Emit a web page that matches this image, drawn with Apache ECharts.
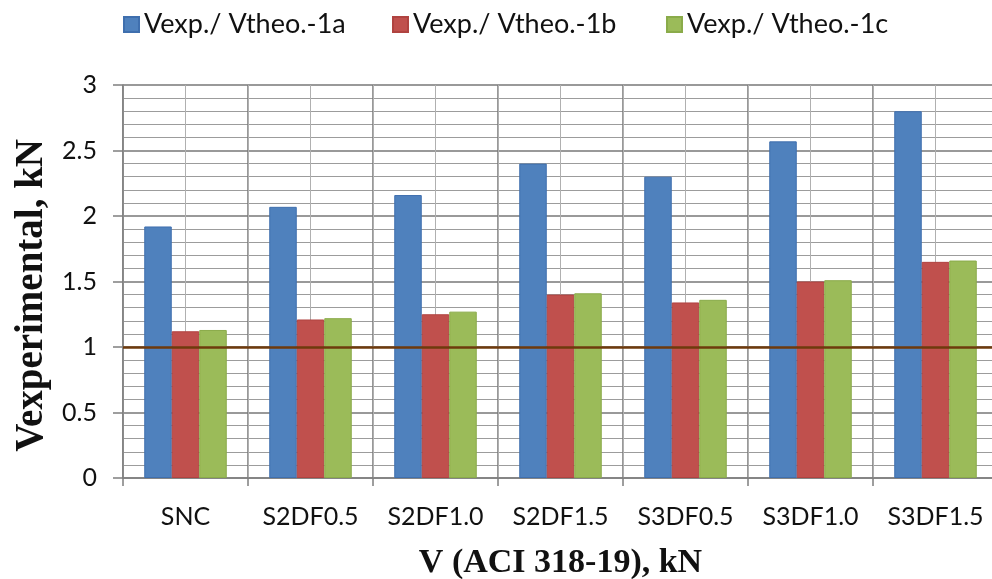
<!DOCTYPE html>
<html>
<head>
<meta charset="utf-8">
<script src="https://cdn.jsdelivr.net/npm/echarts@6/dist/echarts.min.js"></script>
<style>
html,body{margin:0;padding:0;background:#fff;}
#chart{width:992px;height:579px;}
</style>
</head>
<body>
<div id="chart"></div>
<script>
const categories = ['SNC', 'S2DF0.5', 'S2DF1.0', 'S2DF1.5', 'S3DF0.5', 'S3DF1.0', 'S3DF1.5'];
const seriesNames = ['Vexp./ Vtheo.-1a', 'Vexp./ Vtheo.-1b', 'Vexp./ Vtheo.-1c'];
const values1a = [1.92, 2.07, 2.16, 2.40, 2.30, 2.57, 2.80];
const values1b = [1.12, 1.21, 1.25, 1.40, 1.34, 1.50, 1.65];
const values1c = [1.13, 1.22, 1.27, 1.41, 1.36, 1.51, 1.66];
const referenceValue = 1;
const yTitle = 'Vexperimental, kN';
const xTitle = 'V (ACI 318-19), kN';

const colors = ['#4f81bd', '#c0504d', '#9bbb59'];
const legendLefts = [123, 392, 666];
const halfCats = categories.flatMap(c => [c + '-L', c + '-R']);

const chart = echarts.init(document.getElementById('chart'), null, {renderer: 'canvas'});
const labelFont = 'Lato';
chart.setOption({
  animation: false,
  backgroundColor: '#ffffff',
  color: colors,
  legend: seriesNames.map((n, i) => ({
    left: legendLefts[i],
    top: 11,
    padding: 0,
    itemWidth: 15,
    itemHeight: 15,
    itemGap: 0,
    icon: 'rect',
    textStyle: {fontFamily: labelFont, fontSize: 27, color: '#111'},
    data: [n]
  })),
  grid: {left: 123, width: 875, top: 85, height: 393, containLabel: false, outerBoundsMode: 'none'},
  graphic: [{
    type: 'text',
    left: 12,
    top: 139,
    rotation: Math.PI / 2,
    style: {
      text: yTitle,
      font: 'bold 39px "Liberation Serif", "Times New Roman", serif',
      fill: '#111'
    }
  }],
  xAxis: [{
    type: 'category',
    data: categories,
    position: 'bottom',
    name: xTitle,
    nameLocation: 'middle',
    nameGap: 68,
    nameTextStyle: {fontFamily: '"Liberation Serif", "Times New Roman", serif', fontWeight: 'bold', fontSize: 34, color: '#111'},
    axisLine: {show: true, lineStyle: {color: '#7f7f7f', width: 1.5}},
    axisTick: {show: true, length: 8, lineStyle: {color: '#7f7f7f', width: 1.5}},
    axisLabel: {fontFamily: labelFont, fontSize: 25, color: '#111', margin: 26, interval: 0},
    splitLine: {show: true, interval: 0, lineStyle: {color: '#777777', width: 1.5}}
  }, {
    type: 'category',
    data: halfCats,
    position: 'top',
    axisLine: {show: false},
    axisTick: {show: false},
    axisLabel: {show: false},
    splitLine: {show: true, interval: 0, lineStyle: {color: '#b0b0b0', width: 1}}
  }],
  yAxis: {
    type: 'value',
    min: 0,
    max: 3,
    interval: 0.5,
    axisLine: {show: true, lineStyle: {color: '#7f7f7f', width: 1.5}},
    axisTick: {show: true, length: 10, lineStyle: {color: '#7f7f7f', width: 1.5}},
    axisLabel: {fontFamily: labelFont, fontSize: 25, color: '#111', margin: 26},
    splitLine: {show: true, lineStyle: {color: '#777777', width: 1.5}},
    minorTick: {show: false, splitNumber: 5},
    minorSplitLine: {show: true, lineStyle: {color: '#9c9c9c', width: 1}}
  },
  series: [
    {name: seriesNames[0], type: 'bar', data: values1a, barGap: '0%', barCategoryGap: '34%',
     itemStyle: {color: colors[0], borderColor: '#3f6fae', borderWidth: 1}},
    {name: seriesNames[1], type: 'bar', data: values1b, barGap: '0%', barCategoryGap: '34%',
     itemStyle: {color: colors[1], borderColor: '#b04340', borderWidth: 1}},
    {name: seriesNames[2], type: 'bar', data: values1c, barGap: '0%', barCategoryGap: '34%',
     itemStyle: {color: colors[2], borderColor: '#8aab4a', borderWidth: 1},
     markLine: {
       silent: true,
       symbol: 'none',
       label: {show: false},
       lineStyle: {color: '#6e3a0c', width: 2.5, type: 'solid'},
       data: [{yAxis: referenceValue}]
     }}
  ]
});
</script>
</body>
</html>
